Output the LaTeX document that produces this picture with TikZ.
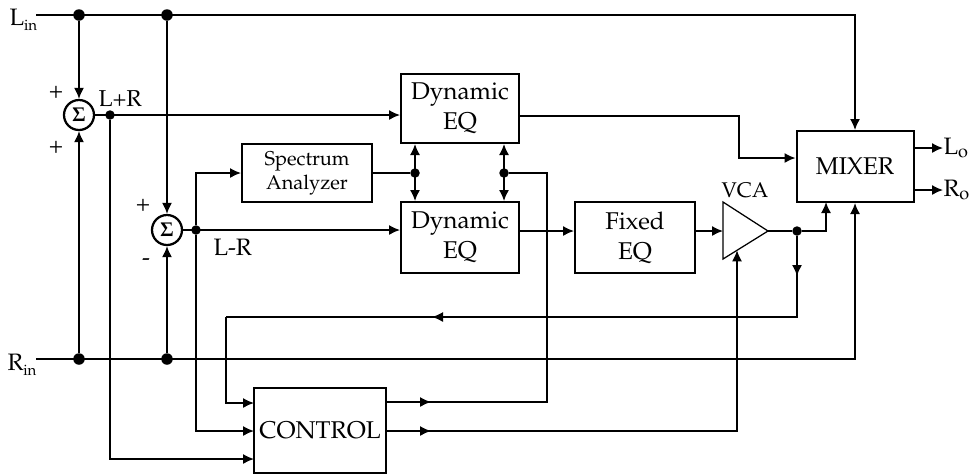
\documentclass[tikz,border=0pt]{standalone}
\usepackage[T1]{fontenc}
\usepackage{mathpazo}
\usetikzlibrary{arrows.meta}
\tikzset{
  box/.style={draw, line width=0.8pt, rectangle, inner sep=0pt, align=center, font=\fontsize{9.7}{12}\selectfont},
  conn/.style={line width=0.6pt},
  arr/.style={conn, -{Latex[length=4.4pt,width=4pt]}},
  darr/.style={conn, {Latex[length=4.4pt,width=4pt]}-{Latex[length=4.4pt,width=4pt]}},
  dot/.style={circle, fill, inner sep=0pt, minimum size=3.8pt},
  bigdot/.style={circle, fill, inner sep=0pt, minimum size=4.6pt},
  sumnode/.style={circle, draw, line width=0.9pt, inner sep=0pt, minimum size=12pt, font=\fontsize{8}{8}\selectfont},
  lbl/.style={inner sep=0pt, font=\fontsize{9.5}{12}\selectfont},
}
\begin{document}
\begin{tikzpicture}[x=0.4pt,y=-0.4pt]
\useasboundingbox (0,0) rectangle (971,475);

% boxes
\node[box, minimum width=52pt, minimum height=23.2pt, font=\fontsize{8}{9.6}\selectfont] (spec) at (307,173) {Spectrum\\Analyzer};
\node[box, minimum width=47.2pt, minimum height=27.6pt] (eq1) at (460,108.5) {Dynamic\\EQ};
\node[box, minimum width=47.2pt, minimum height=28.4pt] (eq2) at (460,237.5) {Dynamic\\EQ};
\node[box, minimum width=48pt, minimum height=28.4pt] (fixed) at (635,237.5) {Fixed\\EQ};
\node[box, minimum width=46.8pt, minimum height=28.4pt] (mixer) at (855,166.5) {MIXER};
\node[box, minimum width=52.8pt, minimum height=34pt] (control) at (320,430.5) {CONTROL};

% summing junctions
\node[sumnode] (s1) at (79,115) {$\mathbf{\Sigma}$};
\node[sumnode] (s2) at (167,230) {$\mathbf{\Sigma}$};

% VCA
\coordinate (vT) at (723,202);
\coordinate (vB) at (723,259);
\coordinate (vO) at (768,231);
\coordinate (vL) at (723,231);
\coordinate (vC) at (737,250.3);
\draw[line width=0.5pt] (vT) -- (vO) -- (vB) -- cycle;
\node[lbl, anchor=base, font=\fontsize{8.5}{10}\selectfont] (vcalbl) at (745,197) {VCA};

% route coordinates
\coordinate (linS) at (36,15);
\coordinate (linE) at (855,15);
\coordinate (rinS) at (36,359);
\coordinate (rinE) at (855,359);
\coordinate (ci1) at (254,403);
\coordinate (ci2) at (254,431);
\coordinate (ci3) at (254,459);
\coordinate (co1) at (386,402);
\coordinate (co2) at (386,431);
\coordinate (m1) at (431,402);
\coordinate (m2) at (431,431);
\coordinate (k1) at (547,402);
\coordinate (mb1) at (826,202);
\coordinate (f1) at (797,317);
\coordinate (f2) at (226,317);
\coordinate (fa) at (797,276);
\coordinate (fb) at (432,317);
\coordinate (e1) at (739,116);
\coordinate (e2) at (739,158);

% labels
\node[lbl, anchor=base west] (lin) at (9,25) {L\raisebox{-0.45ex}{\fontsize{6}{6}\selectfont in}};
\node[lbl, anchor=base west] (rin) at (7,370) {R\raisebox{-0.45ex}{\fontsize{6}{6}\selectfont in}};
\node[lbl, anchor=west] (Lo) at (943,148) {L$_{\mathrm{o}}$};
\node[lbl, anchor=west] (Ro) at (943,190) {R$_{\mathrm{o}}$};
\node[lbl] (p1) at (56,92) {+};
\node[lbl] (p2) at (56,147) {+};
\node[lbl] (p3) at (143,205) {+};
\node[lbl] (p4) at (146,262) {-};
\node[lbl, anchor=base west, font=\fontsize{9.2}{12}\selectfont] (lpr) at (98,106) {L+R};
\node[lbl, anchor=base west] (lmr) at (213,255) {L-R};

% main input lines
\draw[arr] (linS) -- (linE) -- (mixer.north);
\draw[arr] (rinS) -- (rinE) -- (mixer.south);

% dots
\node[bigdot] (dL1) at (79,15) {};
\node[bigdot] (dL2) at (167,15) {};
\node[bigdot] (dR1) at (79,359) {};
\node[bigdot] (dR2) at (167,359) {};
\node[dot] (dLp) at (110,115) {};
\node[dot] (dLm) at (196,230) {};
\node[dot] (dSa) at (415,173) {};
\node[dot] (dSb) at (504,173) {};
\node[dot] (dV) at (797,231) {};

% into summers
\draw[arr] (dL1) -- (s1.north);
\draw[arr] (dR1) -- (s1.south);
\draw[arr] (dL2) -- (s2.north);
\draw[arr] (dR2) -- (s2.south);

% L+R path
\draw[arr] (s1.east) -- (s1 -| eq1.west);
\draw[arr] (dLp) |- (ci3);

% L-R path
\draw[arr] (s2.east) -- (s2 -| eq2.west);
\draw[arr] (dLm) |- (spec.west);
\draw[arr] (dLm) |- (ci2);

% spectrum analyzer and control to EQs
\draw[conn] (spec.east) -- (dSa);
\draw[darr] (dSa |- eq1.south) -- (dSa |- eq2.north);
\draw[darr] (dSb |- eq1.south) -- (dSb |- eq2.north);
\draw[conn] (co1) -- (k1) -- (k1 |- dSb) -- (dSb);
\draw[arr] (co1) -- (m1);

% control to VCA
\draw[arr] (co2) -| (vC);
\draw[arr] (co2) -- (m2);

% signal chain
\draw[arr] (vL -| eq2.east) -- (vL -| fixed.west);
\draw[arr] (vL -| fixed.east) -- (vL);
\draw[conn] (vO) -- (dV);
\draw[arr] (dV) -| (mb1);

% feedback to control
\draw[conn] (dV) -- (f1) -- (f2);
\draw[arr] (dV) -- (fa);
\draw[arr] (f1) -- (fb);
\draw[arr] (f2) |- (ci1);

% EQ1 to mixer
\draw[arr] (eq1.east |- e1) -- (e1) -- (e2) -- (e2 -| mixer.west);

% outputs
\draw[arr] (mixer.east |- Lo) -- (Lo.west);
\draw[arr] (mixer.east |- Ro) -- (Ro.west);
\end{tikzpicture}
\end{document}
